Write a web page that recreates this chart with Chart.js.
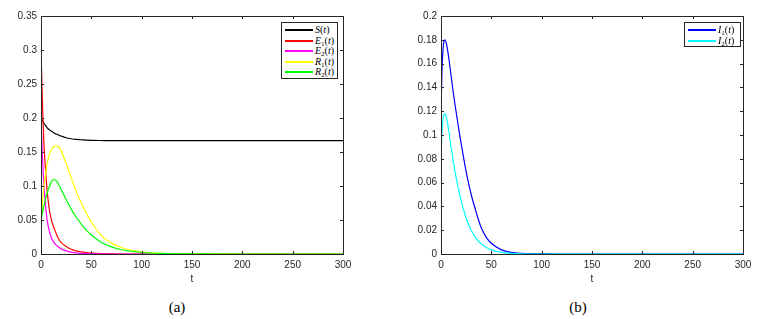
<!DOCTYPE html>
<html>
<head>
<meta charset="utf-8">
<script src="https://cdn.jsdelivr.net/npm/chart.js@4.4.1/dist/chart.umd.min.js"></script>
<style>
  body { margin: 0; background: #fff; width: 766px; height: 319px; position: relative; overflow: hidden; }
  canvas { position: absolute; top: 0; }
  .legend { position: absolute; background: #fff; border: 1px solid #262626; box-sizing: border-box; padding: 2px 0 0 3px;
            font-family: "Liberation Serif", "DejaVu Serif", serif; font-size: 10px; color: #000; }
  .legend .row { height: 10.5px; line-height: 10.5px; white-space: nowrap; display: flex; align-items: center; }
  .legend .swatch { width: 28px; height: 2px; margin-right: 2px; flex: none; }
  .legend sub { font-size: 7px; vertical-align: -2px; font-style: normal; line-height: 0; }
  .cap { position: absolute; top: 298px; width: 60px; text-align: center; line-height: 18px;
         font-family: "Liberation Serif", "Times New Roman", serif; font-size: 15px; color: #000; }
</style>
</head>
<body>
<canvas id="chartA" width="383" height="290" style="left:0"></canvas>
<canvas id="chartB" width="383" height="290" style="left:383px"></canvas>
<div class="legend" id="legendA" style="left:281px; top:22px; width:57px; height:57px"></div>
<div class="legend" id="legendB" style="left:684px; top:22px; width:57px; height:25px"></div>
<div class="cap" style="left:147px">(a)</div>
<div class="cap" style="left:548px">(b)</div>
<script>
const tVals = [0, 1, 2, 3, 4, 5, 6, 8, 10, 12, 14, 16, 18, 20, 25, 30, 35, 40, 45, 50, 60, 70, 80, 90, 100, 120, 150, 200, 250, 300];

const S  = [0.2, 0.197, 0.195, 0.192, 0.19, 0.188, 0.186, 0.183, 0.181, 0.179, 0.177, 0.176, 0.1745, 0.1735, 0.171, 0.1695, 0.1685, 0.168, 0.1675, 0.1672, 0.1669, 0.1667, 0.1667, 0.1667, 0.1667, 0.1667, 0.1667, 0.1667, 0.1667, 0.1667];
const E1 = [0.3, 0.245, 0.195, 0.16, 0.135, 0.113, 0.095, 0.068, 0.052, 0.042, 0.034, 0.027, 0.021, 0.017, 0.011, 0.007, 0.0045, 0.003, 0.002, 0.0013, 0.0005, 0.0002, 0, 0, 0, 0, 0, 0, 0, 0];
const E2 = [0.2, 0.16, 0.125, 0.1, 0.08, 0.064, 0.051, 0.035, 0.025, 0.019, 0.015, 0.012, 0.0095, 0.0075, 0.0045, 0.0028, 0.0017, 0.001, 0.0006, 0.0004, 0.0001, 0, 0, 0, 0, 0, 0, 0, 0, 0];
const R1 = [0.05, 0.068, 0.085, 0.1, 0.112, 0.123, 0.132, 0.145, 0.153, 0.157, 0.159, 0.159, 0.157, 0.152, 0.133, 0.112, 0.092, 0.075, 0.06, 0.047, 0.027, 0.016, 0.0095, 0.0055, 0.0032, 0.001, 0.0002, 0, 0, 0];
const R2 = [0.05, 0.058, 0.065, 0.072, 0.078, 0.084, 0.089, 0.098, 0.105, 0.109, 0.109, 0.106, 0.101, 0.095, 0.08, 0.066, 0.054, 0.044, 0.035, 0.028, 0.017, 0.0105, 0.0063, 0.0038, 0.0022, 0.0008, 0.0001, 0, 0, 0];
const I1 = [0.12, 0.155, 0.172, 0.179, 0.18, 0.178, 0.174, 0.163, 0.15, 0.137, 0.125, 0.114, 0.103, 0.093, 0.069, 0.05, 0.035, 0.022, 0.014, 0.009, 0.0035, 0.0013, 0.0005, 0.0002, 0.0001, 0, 0, 0, 0, 0];
const I2 = [0.082, 0.103, 0.113, 0.117, 0.118, 0.116, 0.112, 0.102, 0.09, 0.079, 0.069, 0.06, 0.052, 0.045, 0.03, 0.02, 0.013, 0.0085, 0.0055, 0.0035, 0.0013, 0.0005, 0.0002, 0, 0, 0, 0, 0, 0, 0];

const xTicks  = [0, 50, 100, 150, 200, 250, 300];
const yTicksA = [0, 0.05, 0.1, 0.15, 0.2, 0.25, 0.3, 0.35];
const yTicksB = [0, 0.02, 0.04, 0.06, 0.08, 0.1, 0.12, 0.14, 0.16, 0.18, 0.2];

const seriesA = [
  { label: '<i>S</i>(<i>t</i>)', data: S, color: '#000000' },
  { label: '<i>E</i><sub>1</sub>(<i>t</i>)', data: E1, color: '#ff0000' },
  { label: '<i>E</i><sub>2</sub>(<i>t</i>)', data: E2, color: '#ff00ff' },
  { label: '<i>R</i><sub>1</sub>(<i>t</i>)', data: R1, color: '#ffff00' },
  { label: '<i>R</i><sub>2</sub>(<i>t</i>)', data: R2, color: '#00ff00' },
];
const seriesB = [
  { label: '<i>I</i><sub>1</sub>(<i>t</i>)', data: I1, color: '#0000ff' },
  { label: '<i>I</i><sub>2</sub>(<i>t</i>)', data: I2, color: '#00ffff' },
];

const axisColor = '#262626';
const tickFont = { family: 'Liberation Sans, Arial, sans-serif', size: 10 };

// MATLAB-style box with inward ticks on all four sides
const boxTicks = {
  id: 'boxTicks',
  afterDraw(chart) {
    const { ctx, chartArea: a, scales: { x, y } } = chart;
    ctx.save();
    ctx.strokeStyle = axisColor;
    ctx.lineWidth = 1;
    ctx.beginPath();
    x.ticks.forEach(tk => {
      const px = Math.round(x.getPixelForValue(tk.value)) + 0.5;
      ctx.moveTo(px, a.bottom); ctx.lineTo(px, a.bottom - 3);
      ctx.moveTo(px, a.top); ctx.lineTo(px, a.top + 3);
    });
    y.ticks.forEach(tk => {
      const py = Math.round(y.getPixelForValue(tk.value)) + 0.5;
      ctx.moveTo(a.left, py); ctx.lineTo(a.left + 3, py);
      ctx.moveTo(a.right, py); ctx.lineTo(a.right - 3, py);
    });
    ctx.stroke();
    ctx.strokeRect(Math.round(a.left) + 0.5, Math.round(a.top) + 0.5, Math.round(a.width), Math.round(a.height));
    ctx.restore();
  }
};

function makeChart(id, series, yMax, yTicks, yWidth, padRight) {
  const n = series.length;
  return new Chart(document.getElementById(id), {
    type: 'line',
    data: {
      datasets: series.map((s, i) => ({
        label: s.label,
        data: tVals.map((t, k) => ({ x: t, y: s.data[k] })),
        borderColor: s.color,
        borderWidth: 1.2,
        pointRadius: 0,
        fill: false,
        cubicInterpolationMode: 'monotone',
        order: n - i
      }))
    },
    options: {
      responsive: false,
      animation: false,
      devicePixelRatio: 1,
      layout: { padding: { top: 16, right: padRight, left: 0, bottom: 0 } },
      plugins: { legend: { display: false }, tooltip: { enabled: false } },
      scales: {
        x: {
          type: 'linear', min: 0, max: 300,
          afterBuildTicks: sc => { sc.ticks = xTicks.map(v => ({ value: v })); },
          afterFit: sc => { sc.height = 36; },
          grid: { display: false, drawTicks: false },
          border: { display: false },
          ticks: { color: axisColor, font: tickFont, padding: 5, maxRotation: 0, callback: v => String(v) },
          title: { display: true, text: 't', color: axisColor, font: tickFont, padding: { top: 0, bottom: 5 } }
        },
        y: {
          type: 'linear', min: 0, max: yMax,
          afterBuildTicks: sc => { sc.ticks = yTicks.map(v => ({ value: v })); },
          afterFit: sc => { sc.width = yWidth; },
          grid: { display: false, drawTicks: false },
          border: { display: false },
          ticks: { color: axisColor, font: tickFont, padding: 4, callback: v => String(+v.toFixed(3)) }
        }
      }
    },
    plugins: [boxTicks]
  });
}

function makeLegend(id, series) {
  document.getElementById(id).innerHTML = series.map(s =>
    `<div class="row"><span class="swatch" style="background:${s.color}"></span><span>${s.label}</span></div>`
  ).join('');
}

makeChart('chartA', seriesA, 0.35, yTicksA, 41, 40);
makeChart('chartB', seriesB, 0.2, yTicksB, 58, 23);
makeLegend('legendA', seriesA);
makeLegend('legendB', seriesB);
</script>
</body>
</html>
